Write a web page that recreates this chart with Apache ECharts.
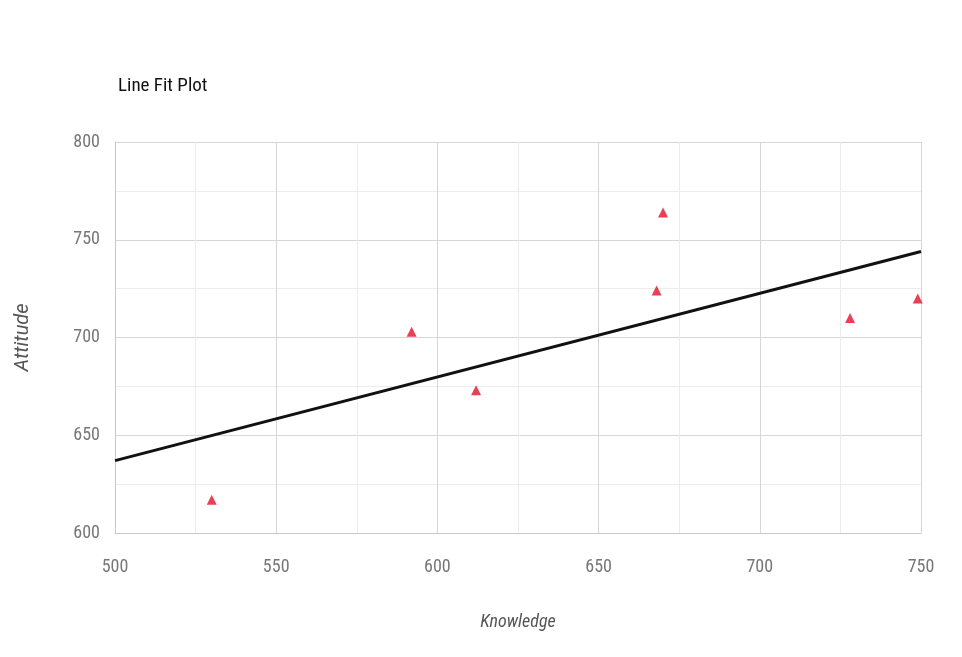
<!DOCTYPE html>
<html>
<head>
<meta charset="utf-8">
<script src="https://cdn.jsdelivr.net/npm/echarts@6/dist/echarts.min.js"></script>
<style>
  html, body { margin: 0; padding: 0; background: #fff; }
  #chart { width: 962px; height: 657px; }
</style>
</head>
<body>
<div id="chart"></div>
<script>
// observed points (Knowledge, Attitude)
let knowledge = [530, 592, 612, 668, 670, 728, 749];
let attitude = [617, 703, 673, 724, 764, 710, 720];
// fitted line end points
let fitX = [500, 750];
let fitY = [637, 744];

let fontFam = '"Roboto Condensed", "DejaVu Sans Condensed", sans-serif';

let chart = echarts.init(document.getElementById('chart'));

let points = knowledge.map((k, i) => [k, attitude[i]]);
let line = fitX.map((x, i) => [x, fitY[i]]);

let option = {
    backgroundColor: '#fff',
    animation: false,
    title: {
        text: 'Line Fit Plot',
        left: 113,
        top: 72,
        textStyle: { color: '#111', fontSize: 19, fontWeight: 'normal', fontFamily: fontFam }
    },
    grid: { left: 115, top: 142, right: 41, bottom: 124 },
    xAxis: {
        type: 'value',
        min: 500,
        max: 750,
        interval: 50,
        name: 'Knowledge',
        nameLocation: 'middle',
        nameGap: 80,
        nameTextStyle: { color: '#555', fontSize: 18, fontStyle: 'italic', fontFamily: fontFam },
        axisLine: { show: true, lineStyle: { color: '#c8c8c8', width: 1 } },
        axisTick: { show: false },
        axisLabel: { color: '#777', fontSize: 18, margin: 25, fontFamily: fontFam },
        splitLine: { show: true, lineStyle: { color: '#d6d6d6', width: 1 } },
        minorTick: { show: false, splitNumber: 2 },
        minorSplitLine: { show: true, lineStyle: { color: '#ececec', width: 1 } }
    },
    yAxis: {
        type: 'value',
        min: 600,
        max: 800,
        interval: 50,
        name: 'Attitude',
        nameLocation: 'middle',
        nameGap: 82,
        nameTextStyle: { color: '#555', fontSize: 20, fontStyle: 'italic', fontFamily: 'Roboto, sans-serif' },
        axisLine: { show: true, lineStyle: { color: '#c8c8c8', width: 1 } },
        axisTick: { show: false },
        axisLabel: { color: '#777', fontSize: 18, margin: 15, fontFamily: fontFam },
        splitLine: { show: true, lineStyle: { color: '#d6d6d6', width: 1 } },
        minorTick: { show: false, splitNumber: 2 },
        minorSplitLine: { show: true, lineStyle: { color: '#ececec', width: 1 } }
    },
    series: [
        {
            name: 'Fit',
            type: 'line',
            data: line,
            symbol: 'none',
            lineStyle: { color: '#111', width: 3 },
            z: 2
        },
        {
            name: 'Attitude',
            type: 'scatter',
            data: points,
            symbol: 'triangle',
            symbolSize: 10,
            itemStyle: { color: '#e3102b' },
            z: 3
        }
    ]
};

chart.setOption(option);
</script>
</body>
</html>
